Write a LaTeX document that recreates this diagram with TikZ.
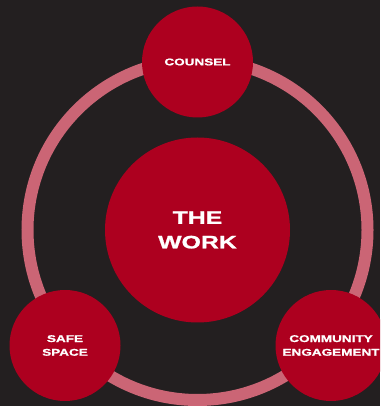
\documentclass[tikz,border=0pt]{standalone}
\usepackage{fontspec}
\newfontfamily\widefont[FakeStretch=1.38,FakeBold=1.2,UprightFont=* Bold]{Liberation Sans}
\usetikzlibrary{positioning}
\definecolor{bgdark}{HTML}{231F20}
\definecolor{workred}{HTML}{AD001F}
\definecolor{ringpink}{HTML}{CB6575}

\begin{document}
\begin{tikzpicture}[x=1pt,y=1pt,
  hub/.style={circle,fill=workred,minimum size=185pt,inner sep=0pt,text=white,align=center,
    font=\widefont\fontsize{18}{24.5}\selectfont},
  spoke/.style={circle,fill=workred,minimum size=111pt,inner sep=0pt,text=white,align=center,
    font=\widefont\fontsize{9.8}{13.7}\selectfont}]
\fill[bgdark](0,0)rectangle(380,406);
\clip(0,0)rectangle(380,406);
\node[hub](work)at(197.5,176){THE\\WORK};
\draw[ringpink,line width=12pt](work.center)circle(170pt);
\node[spoke](counsel)at(197.5,344){COUNSEL};
\node[spoke](safe)at(65,60.5){SAFE\\SPACE};
\node[spoke](community)at(331,60.5){COMMUNITY\\ENGAGEMENT};
\end{tikzpicture}
\end{document}
